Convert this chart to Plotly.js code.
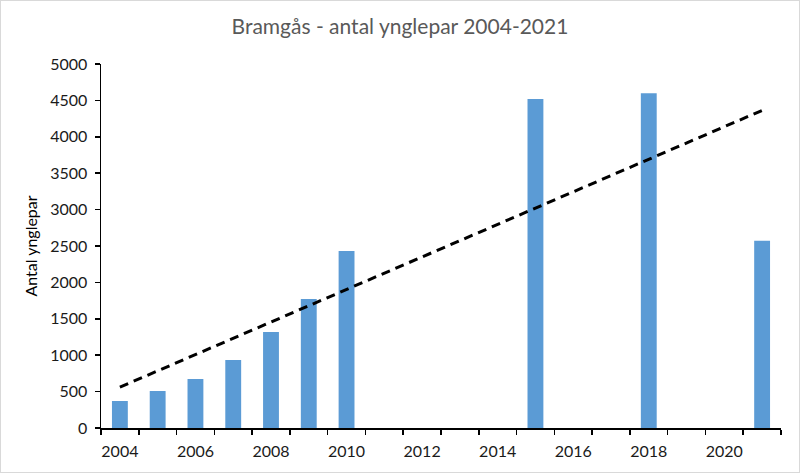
<!DOCTYPE html>
<html>
<head>
<meta charset="utf-8">
<script src="https://cdn.plot.ly/plotly-3.0.1.min.js"></script>
<style>
html,body{margin:0;padding:0;background:#fff;}
#chart{width:798px;height:471px;border:1px solid #d9d9d9;}
</style>
</head>
<body>
<div id="chart"></div>
<script>
var years = [2004, 2005, 2006, 2007, 2008, 2009, 2010, 2015, 2018, 2021];
var pairs = [371, 508, 673, 934, 1319, 1772, 2431, 4519, 4598, 2573];
var tickYears = [2004, 2006, 2008, 2010, 2012, 2014, 2016, 2018, 2020];
var yTicks = [0, 500, 1000, 1500, 2000, 2500, 3000, 3500, 4000, 4500, 5000];

// linear trendline (least squares) from the data
var n = years.length, mx = 0, my = 0;
for (var i = 0; i < n; i++) { mx += years[i]; my += pairs[i]; }
mx /= n; my /= n;
var sxy = 0, sxx = 0;
for (var i = 0; i < n; i++) { sxy += (years[i]-mx)*(pairs[i]-my); sxx += (years[i]-mx)*(years[i]-mx); }
var slope = sxy / sxx, icpt = my - slope*mx;
var tx = [years[0], years[n-1]];
var ty = tx.map(function(x){ return icpt + slope*x; });

var font = 'Lato, "Open Sans", sans-serif';
var data = [
  {type:'bar', x: years, y: pairs, width: 0.42, marker:{color:'#5b9bd5'}, hoverinfo:'x+y'},
  {type:'scatter', mode:'lines', x: tx, y: ty, line:{color:'#000', width:3, dash:'9px,6px'}, hoverinfo:'skip'}
];
var layout = {
  width: 798, height: 471,
  margin: {l:100, r:18, t:63, b:44},
  paper_bgcolor:'#fff', plot_bgcolor:'#fff',
  showlegend:false,
  font:{family:font, size:16, color:'#000'},
  title:{text:'Bramgås - antal ynglepar 2004-2021', font:{family:font, size:21, color:'#595959'}, x:0.5, xanchor:'center', y:0.945, yanchor:'middle'},
  xaxis:{range:[2003.5, 2021.5], tickvals: tickYears, ticktext: tickYears.map(String), ticks:'', showgrid:false, zeroline:false,
    showline:true, linecolor:'#000', linewidth:1.5, tickfont:{size:16, color:'#1a1a1a'}, ticklabelstandoff:8,
    minor:{tick0:2003.5, dtick:1, ticks:'outside', ticklen:5, tickcolor:'#000', tickwidth:1.5, showgrid:false}},
  yaxis:{range:[0,5000], tickvals: yTicks, ticks:'outside', ticklen:5, tickcolor:'#000', tickwidth:1.5, showgrid:false, zeroline:false,
    showline:true, linecolor:'#000', linewidth:1.5, tickfont:{size:16, color:'#1a1a1a'}, ticklabelstandoff:4,
    title:{text:'Antal ynglepar', font:{size:16, color:'#000'}, standoff:8}}
};
Plotly.newPlot('chart', data, layout, {displayModeBar:false, staticPlot:true});
</script>
</body>
</html>
